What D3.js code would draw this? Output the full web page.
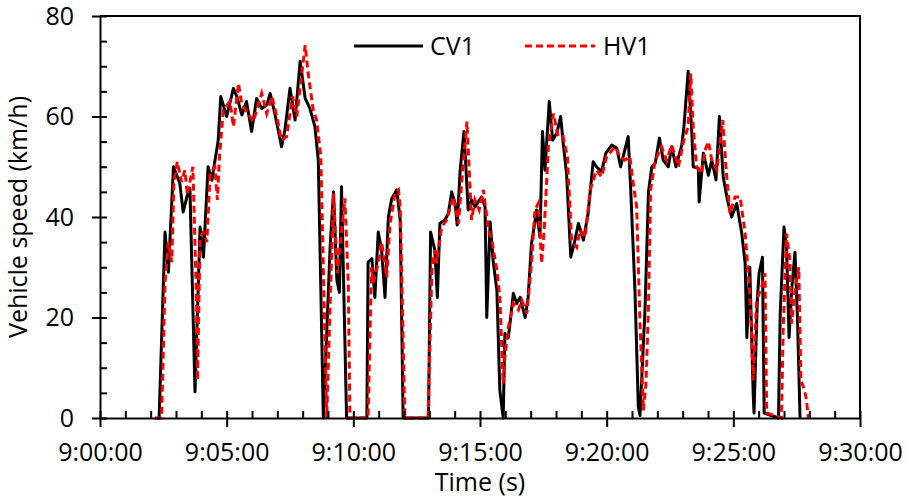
<!DOCTYPE html>
<html>
<head>
<meta charset="utf-8">
<script src="https://cdn.jsdelivr.net/npm/d3@7"></script>
<style>
  body { margin: 0; background: #fff; }
  text { font-family: "Open Sans", sans-serif; }
</style>
</head>
<body>
<script>
// time in seconds after 9:00:00, speed in km/h
const cvTime = [135,140,154,162,174,189,197,207,213,225,237,245,256,265,280,286,300,316,324,336,347,359,371,383,395,403,414,430,438,450,462,474,486,497,509,517,529,
  545,553,561,567,572,584,632,635,644,651,659,667,675,683,691,703,711,718,778,783,793,799,805,817,825,833,841,846,853,862,872,880,888,896,904,912,916,924,931,940,947,955,
  959,967,971,979,987,995,1007,1014,1022,1030,1034,1042,1048,1054,1064,1072,1082,1091,1097,1105,1115,1125,1133,1145,1156,1168,1176,1188,1198,1212,1224,1233,1242,1251,1257,1267,1275,1279,
  1291,1299,1307,1315,1325,1334,1346,1354,1364,1378,1383,1393,1401,1405,1417,1419,1429,1441,1449,1459,1467,1476,1486,1496,1508,1520,1528,1532,1539,1547,1549,1557,1561,1569,1573,
  1607,1611,1620,1626,1632,1638,1646,1652,1658]
const cvSpeed = [0,0,37,29,50,46.7,41,44.4,45.7,5.2,38,32,50,47.3,55.3,64,60,65.6,64,60.3,63,57,63.6,61.6,62.3,64.6,60.6,54,57.3,65.6,59.3,71,63.6,61.6,58,51.3,0,
  34,45,27.4,25,46,0,0,31,31.7,24,37,33.4,24,40,43.7,45.4,39.4,0,0,37,33.4,24,38.7,39.4,40.7,45,42.7,38.4,49.3,57,41.4,43.4,42,43,44,42,20,39,31.4,25.4,5.5,0,
  16.8,16,18.8,24.8,22.8,24,20,24,34.7,39,41.4,36,57,49.3,63,55.3,56.7,60,54.7,48.7,32,35.4,38.7,35.4,40.7,51,50,49,52.7,54.3,53.7,50,53,56,45.4,25.4,2.2,0.5,
  22,45,50,50.7,55.7,51.3,50,54,50,54.3,58,69,58,50,49.7,43,52.7,48.3,51.3,47.4,60,48,43.4,40,42.7,36.7,30.8,16,30,4.9,1,24,28.8,32,1,
  0,20.8,38,34,16,25.4,33,19.5,0]

const hvTime = [130,146,154,162,170,175,183,193,201,207,220,229,231,237,245,253,261,272,278,283,292,308,316,328,336,347,363,383,395,407,418,430,442,456,466,478,486,493,505,513,523,537,
  553,562,570,580,588,592,628,635,643,647,659,667,679,687,699,707,711,722,777,786,793,797,809,821,837,849,859,869,880,888,898,908,920,928,940,947,955,
  959,967,979,991,999,1011,1022,1030,1038,1046,1052,1062,1074,1085,1097,1107,1117,1129,1137,1149,1161,1176,1188,1200,1220,1232,1243,1255,1263,1271,1279,1287,1293,
  1299,1304,1315,1330,1342,1354,1370,1382,1393,1399,1405,1413,1425,1433,1441,1449,1461,1475,1483,1492,1504,1516,1528,1539,1543,1547,1555,1567,1575,1579,
  1614,1618,1626,1634,1638,1646,1655,1660,1666,1672,1678]
const hvSpeed = [0,0,27,35,31,47,51,47,49.3,44.4,50,22,7.5,36,37,35,48.7,50,43.4,52,61.3,63,58,66.6,62.3,61,59,64.6,60.6,64,60.3,55.3,56,64,60,68.6,74.2,68.6,61.3,59.3,52,0,
  44.7,28.8,35.4,43.7,26.8,0,0,0,30,26.8,30.8,35,28,38.7,44.7,45.4,42,0,0,29.4,33.4,30.8,38,39.4,44,38.7,49.3,59,39.4,43.4,41.4,45.4,37.4,35.4,29.4,24,6.8,
  12.2,18,22.8,21.5,23.4,20.8,30.8,41.4,42.7,30.8,37.4,54,60.6,56,56,52,35.4,34,37.4,36,45.4,49.3,48,52,54,52,51.3,52,46.7,42,18.8,1.5,6.8,
  22,45.4,51.3,54,51.3,54.3,50,55,58,68.6,58,50,48.7,53.3,55,51.3,49.3,59.3,49.3,40.7,44,44,36.7,24.8,17.5,7.5,23.4,26,28.8,1,
  0,17.5,36.7,31.4,18.8,25.4,30,7.5,6.2,4.2,0]

const xTickValues = [0,300,600,900,1200,1500,1800]
const xTickLabels = ['9:00:00','9:05:00','9:10:00','9:15:00','9:20:00','9:25:00','9:30:00']
const yTickValues = [0,20,40,60,80]

const margin = ({top: 16, right: 47, bottom: 83, left: 100})
const width = 907 - margin.left - margin.right,
  height = 501 - margin.top - margin.bottom

let svg = d3.select('body').append('svg')
  .attr('width', 907)
  .attr('height', 501)
  .append('g')
  .attr('transform', 'translate(' + margin.left + ',' + margin.top + ')')

let xScale = d3.scaleLinear()
  .domain([0, 1800])
  .range([0, width])

let yScale = d3.scaleLinear()
  .domain([0, 80])
  .range([height, 0])

const cv = cvTime.map((t, i) => ({t: t, v: cvSpeed[i]}))
const hv = hvTime.map((t, i) => ({t: t, v: hvSpeed[i]}))

const line = d3.line()
  .x(d => xScale(d.t))
  .y(d => yScale(d.v))

// frame (top and right)
svg.append('path')
  .attr('d', `M0,0H${width}V${height}`)
  .attr('fill', 'none')
  .attr('stroke', 'black')
  .attr('stroke-width', 2)

svg.append('path')
  .datum(cv)
  .attr('fill', 'none')
  .attr('stroke', 'black')
  .attr('stroke-width', 3)
  .attr('stroke-linejoin', 'round')
  .attr('d', line)

svg.append('path')
  .datum(hv)
  .attr('fill', 'none')
  .attr('stroke', '#ff0000')
  .attr('stroke-width', 3)
  .attr('stroke-dasharray', '7,4')
  .attr('d', line)

// minor ticks point inward
svg.append('g')
  .attr('transform', `translate(0,${height})`)
  .call(d3.axisTop(xScale).tickValues(d3.range(0, 1801, 60)).tickSize(7).tickFormat(''))
  .call(g => g.select('.domain').remove())
  .selectAll('line').attr('stroke-width', 2)

svg.append('g')
  .call(d3.axisRight(yScale).tickValues(d3.range(0, 81, 5)).tickSize(7).tickFormat(''))
  .call(g => g.select('.domain').remove())
  .selectAll('line').attr('stroke-width', 2)

let xAxis = d3.axisBottom(xScale)
  .tickValues(xTickValues)
  .tickFormat((d, i) => xTickLabels[i])
  .tickSize(9)
  .tickSizeOuter(0)
  .tickPadding(16)

let yAxis = d3.axisLeft(yScale)
  .tickValues(yTickValues)
  .tickSize(8)
  .tickSizeOuter(0)
  .tickPadding(18)

svg.append('g')
  .attr('class', 'x-axis')
  .attr('transform', `translate(0,${height})`)
  .call(xAxis)
  .call(g => g.selectAll('line, .domain').attr('stroke-width', 2))
  .selectAll('text')
  .attr('font-size', 25)
  .attr('font-family', 'Open Sans')
  .attr('fill', 'black')

svg.append('g')
  .attr('class', 'y-axis')
  .call(yAxis)
  .call(g => g.selectAll('line, .domain').attr('stroke-width', 2))
  .selectAll('text')
  .attr('font-size', 25)
  .attr('font-family', 'Open Sans')
  .attr('fill', 'black')

svg.append('text')
  .attr('x', width / 2)
  .attr('y', height + 73)
  .attr('text-anchor', 'middle')
  .attr('font-size', 25)
  .text('Time (s)')

svg.append('text')
  .attr('transform', `translate(${-73},${height / 2}) rotate(-90)`)
  .attr('text-anchor', 'middle')
  .attr('font-size', 25)
  .text('Vehicle speed (km/h)')

// legend
const legend = svg.append('g')
  .attr('transform', 'translate(254,30)')

legend.append('line')
  .attr('x1', 0).attr('x2', 69)
  .attr('stroke', 'black').attr('stroke-width', 3)
legend.append('text')
  .attr('x', 76).attr('dy', '0.36em')
  .attr('font-size', 25)
  .text('CV1')

legend.append('line')
  .attr('x1', 171).attr('x2', 241)
  .attr('stroke', '#ff0000').attr('stroke-width', 3)
  .attr('stroke-dasharray', '7,4')
legend.append('text')
  .attr('x', 249).attr('dy', '0.36em')
  .attr('font-size', 25)
  .text('HV1')
</script>
</body>
</html>
